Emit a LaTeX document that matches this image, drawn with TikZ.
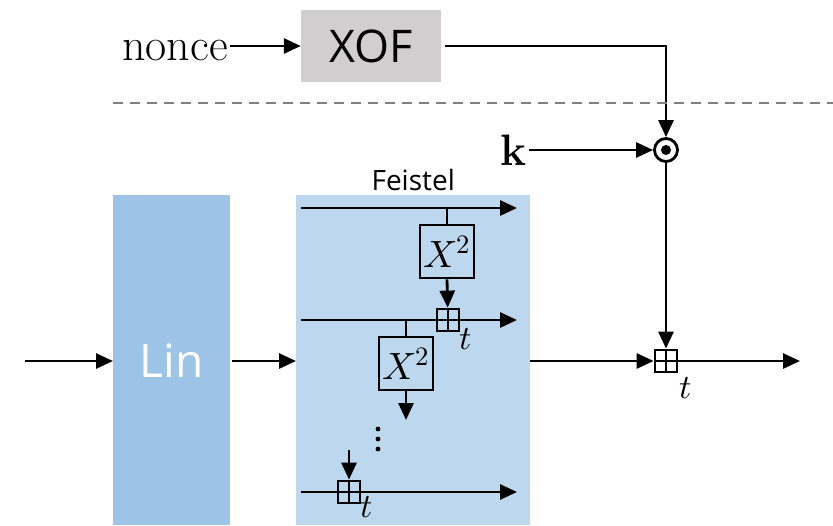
\documentclass[tikz,border=0pt]{standalone}
\usepackage{fontspec}
\usepackage{unicode-math}
\setsansfont{Open Sans}
\usepackage{tikz}
\usetikzlibrary{arrows.meta}
\usetikzlibrary{calc,positioning}

\definecolor{xofgray}{HTML}{D0CECE}
\definecolor{linblue}{HTML}{9DC3E6}
\definecolor{feistelblue}{HTML}{BDD7EE}
\definecolor{sepgray}{HTML}{808080}

\tikzset{
    flow/.style={line width=2.8pt, -{Triangle[length=17pt,width=15pt]}},
    wire/.style={line width=2.8pt},
    sqbox/.style={draw, line width=2.8pt, minimum width=54pt, minimum height=53pt, inner sep=0pt,
        font=\fontsize{38}{40}\selectfont},
    bplus/.style={draw, line width=2.8pt, minimum size=22pt, inner sep=0pt,
        path picture={\draw[line width=2.2pt] (path picture bounding box.north) -- (path picture bounding box.south)
            (path picture bounding box.west) -- (path picture bounding box.east);}},
    odot/.style={draw, circle, line width=2.8pt, minimum size=23pt, inner sep=0pt,
        path picture={\fill (path picture bounding box.center) circle (5pt);}},
    tlab/.style={font=\fontsize{34}{36}\selectfont, inner sep=0pt},
}

\begin{document}
\begin{tikzpicture}[x=1pt, y=-1pt]
    \useasboundingbox (0,0) rectangle (833,525);

    % key schedule part
    \node [fill=xofgray, minimum width=140pt, minimum height=72pt, font=\sffamily\fontsize{45}{48}\selectfont] (xof) at (371,46) {XOF};
    \node [anchor=east, inner sep=2pt, font=\fontsize{46}{50}\selectfont] (nonce) at (230,51) {nonce};
    \node [odot] (mix) at (666,150) {};
    \node [anchor=east, inner sep=2pt, font=\fontsize{44}{48}\selectfont] (k) at (529,150) {\textbf{k}};

    \draw [flow] (nonce.east |- xof) -- (xof);
    \draw [flow, shorten <=4pt] (xof.east) -| (mix);
    \draw [flow] (k.east |- mix) -- (mix);

    \coordinate (sepL) at (113,103);
    \coordinate (sepR) at (833,103);
    \draw [sepgray, line width=2.6pt, dash pattern=on 10pt off 7pt] (sepL) -- (sepR);

    % permutation part
    \node [fill=linblue, anchor=north west, minimum width=117pt, minimum height=330pt, text=white,
        font=\sffamily\fontsize{46}{50}\selectfont] (lin) at (113,195) {Lin};
    \node [fill=feistelblue, anchor=north west, minimum width=234pt, minimum height=330pt] (feistel) at (296,195) {};
    \node [above=1pt of feistel, font=\sffamily\fontsize{28}{30}\selectfont] (flabel) {Feistel};

    \coordinate (in) at (25,361);
    \coordinate (out) at (800,361);
    \node [bplus] (addk) at (666,361) {};
    \node [tlab] (tk) at (686,388) {$t$};

    \draw [flow] (in) -- (in -| lin.west);
    \draw [flow, shorten <=2pt] (lin.east |- in) -- (feistel.west |- in);
    \draw [flow] (feistel.east |- in) -- (addk);
    \draw [flow] (mix) -- (addk);
    \draw [flow] (addk.east) -- (out);

    % rounds inside the Feistel box
    \coordinate (r1a) at (301,208);
    \coordinate (r1b) at (517,208);
    \coordinate (r2a) at (301,320);
    \coordinate (r2b) at (517,320);
    \coordinate (r3a) at (301,492);
    \coordinate (r3b) at (517,492);

    \node [sqbox] (sq1) at (447,251.5) {$X^2$};
    \node [bplus] (add1) at (448,320) {};
    \node [tlab] (t1) at (466,339) {$t$};
    \node [sqbox] (sq2) at (406,363.5) {$X^2$};
    \coordinate (sq2out) at (406,420);
    \node [bplus] (add3) at (349,492) {};
    \coordinate (add3in) at (349,450);
    \node [tlab] (t3) at (367,507) {$t$};

    \draw [flow] (r1a) -- (r1b);
    \draw [wire] (sq1 |- r1a) -- (sq1.north);
    \draw [flow] (sq1.south) -- (add1);

    \draw [wire] (r2a) -- (add1.west);
    \draw [flow] (add1.east) -- (r2b);
    \draw [wire] (sq2 |- r2a) -- (sq2.north);
    \draw [flow] (sq2.south) -- (sq2out);

    \foreach \y in {429,439,449}
        \fill (378,\y) circle (2.4pt);

    \draw [flow] (add3in) -- (add3);
    \draw [wire] (r3a) -- (add3.west);
    \draw [flow] (add3.east) -- (r3b);
\end{tikzpicture}
\end{document}
